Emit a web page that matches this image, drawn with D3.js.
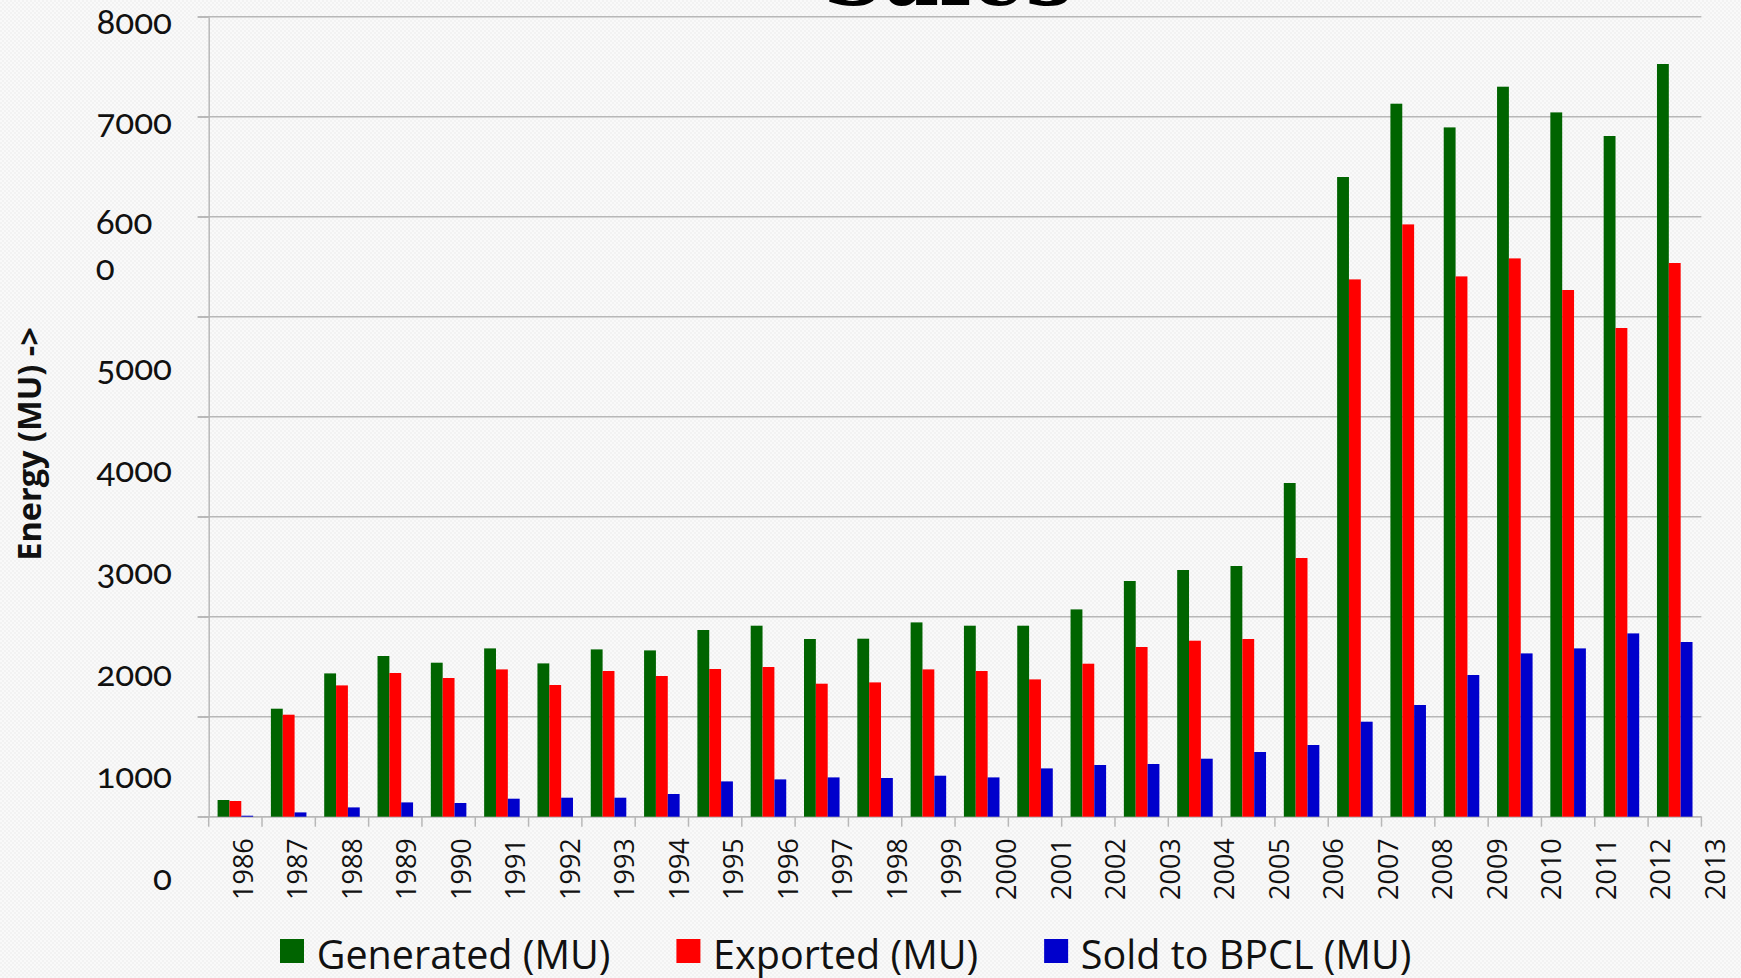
<!DOCTYPE html>
<html lang="en">
<head>
    <meta charset="UTF-8">
    <title>Sales</title>
    <script src="https://cdn.jsdelivr.net/npm/d3@7"></script>
    <style>
        body { margin: 0; background: #f4f4f4; }
        svg { display: block; }
    </style>
</head>
<body>
    <svg></svg>
    <script>
        // data
        let years = d3.range(1986, 2014).map(String);
        let generated = [167, 1080, 1433, 1607, 1540, 1683, 1533, 1673, 1663, 1867, 1910, 1777, 1780, 1943,
                         1910, 1910, 2073, 2357, 2467, 2507, 3337, 6397, 7130, 6893, 7300, 7043, 6807, 7527];
        let exported = [157, 1020, 1313, 1437, 1387, 1473, 1317, 1457, 1407, 1477, 1497, 1330, 1343, 1473,
                        1457, 1373, 1530, 1697, 1760, 1777, 2587, 5373, 5923, 5403, 5583, 5267, 4887, 5537];
        let soldBPCL = [10, 43, 93, 143, 137, 180, 190, 190, 227, 353, 373, 393, 387, 410,
                        393, 483, 517, 527, 580, 647, 717, 950, 1117, 1417, 1633, 1683, 1833, 1747];
        let seriesNames = ["Generated (MU)", "Exported (MU)", "Sold to BPCL (MU)"];
        let seriesColors = ["#006400", "#ff0000", "#0000cc"];
        let yTicks = [0, 1000, 2000, 3000, 4000, 5000, 6000, 7000, 8000];

        let svgWidth = 1741, svgHeight = 978;
        let margin = {left: 208.7, top: 16.7, right: 39.6, bottom: 161.3};
        let w = svgWidth - margin.left - margin.right;
        let h = svgHeight - margin.top - margin.bottom;

        let svg = d3.select("svg").attr("width", svgWidth).attr("height", svgHeight);

        // 背景纹理
        let pat = svg.append("defs").append("pattern")
            .attr("id", "bg").attr("width", 4).attr("height", 4)
            .attr("patternUnits", "userSpaceOnUse");
        pat.append("rect").attr("width", 4).attr("height", 4).attr("fill", "#f2f2f2");
        pat.append("circle").attr("cx", 1).attr("cy", 1).attr("r", 1).attr("fill", "#fcfcfc");
        pat.append("circle").attr("cx", 3).attr("cy", 3).attr("r", 1).attr("fill", "#fcfcfc");
        svg.append("rect").attr("width", svgWidth).attr("height", svgHeight).attr("fill", "url(#bg)");

        // title, mostly off the top of the picture
        svg.append("text")
            .attr("x", 948).attr("y", 5)
            .attr("text-anchor", "middle")
            .style("font-family", "'DejaVu Serif', serif")
            .style("font-weight", "bold")
            .style("font-size", "85px")
            .text("Sales");

        let g = svg.append("g").attr("transform", "translate(" + margin.left + "," + margin.top + ")");

        let x = d3.scaleBand().domain(years).range([0, w]).paddingInner(1 / 3).paddingOuter(1 / 6);
        let xs = d3.scaleBand().domain(d3.range(3)).range([0, x.bandwidth()]);
        let y = d3.scaleLinear().domain([0, 8000]).range([h, 0]);
        let xLabel = d3.scalePoint().domain(years).range([34.3, w + 13.6]);

        let gridColor = "#b8b8b8";

        // gridlines
        g.selectAll("line.grid").data(yTicks).enter().append("line")
            .attr("class", "grid")
            .attr("x1", -11).attr("x2", w)
            .attr("y1", d => y(d)).attr("y2", d => y(d))
            .attr("stroke", gridColor).attr("stroke-width", 1.5);

        // y axis
        let yAxis = g.append("g")
            .call(d3.axisLeft(y).tickValues(yTicks).tickSize(11).tickSizeOuter(0).tickFormat(d3.format("d")));
        yAxis.select(".domain").attr("stroke", gridColor).attr("stroke-width", 1.5);
        yAxis.selectAll(".tick line").attr("stroke", gridColor).attr("stroke-width", 1.5);
        // labels drift downward like in the original slide
        let labelDy = v => v >= 6000 ? 16.5 : 63 + (5000 - v) / 1000 * 2;
        yAxis.selectAll(".tick text")
            .attr("x", -36.7)
            .attr("dy", null)
            .attr("y", d => labelDy(d))
            .attr("fill", "#111")
            .style("font-family", "Lato, 'Noto Sans', sans-serif")
            .style("font-size", "35px")
            .style("font-variant-numeric", "oldstyle-nums")
            .style("font-feature-settings", "'onum' 1")
            .each(function (d) {
                if (d === 6000) {
                    let t = d3.select(this).text(null).attr("text-anchor", "start").attr("x", -113);
                    t.append("tspan").attr("x", -113).text("600");
                    t.append("tspan").attr("x", -113).attr("dy", 46).text("0");
                }
            });
        yAxis.attr("font-family", null).attr("font-size", null);

        // x axis line and ticks at group borders
        let borders = years.map(d => x(d) - (x.step() - x.bandwidth()) / 2).concat([w]);
        g.append("line").attr("x1", 0).attr("x2", w).attr("y1", h).attr("y2", h)
            .attr("stroke", gridColor).attr("stroke-width", 1.5);
        g.selectAll("line.xtick").data(borders).enter().append("line")
            .attr("class", "xtick")
            .attr("x1", d => d).attr("x2", d => d)
            .attr("y1", h).attr("y2", h + 10)
            .attr("stroke", gridColor).attr("stroke-width", 1.5);

        // year labels
        g.selectAll("text.year").data(years).enter().append("text")
            .attr("class", "year")
            .attr("transform", d => "translate(" + xLabel(d) + "," + (h + 21.5) + ") rotate(-90)")
            .attr("dy", "0.36em")
            .attr("text-anchor", "end")
            .attr("fill", "#111")
            .style("font-family", "'Open Sans', sans-serif")
            .style("font-size", "27px")
            .text(d => d);

        // bars
        let allSeries = [generated, exported, soldBPCL];
        allSeries.forEach((vals, si) => {
            g.selectAll("rect.s" + si).data(vals).enter().append("rect")
                .attr("class", "s" + si)
                .attr("x", (d, i) => x(years[i]) + xs(si))
                .attr("width", xs.bandwidth())
                .attr("y", d => y(d))
                .attr("height", d => h - y(d))
                .attr("fill", seriesColors[si]);
        });

        // y axis title
        svg.append("text")
            .attr("transform", "translate(41,444) rotate(-90)")
            .attr("text-anchor", "middle")
            .attr("fill", "#111")
            .style("font-family", "'Open Sans', sans-serif")
            .style("font-weight", "bold")
            .style("font-size", "32.5px")
            .text("Energy (MU) ->");

        // legend
        let legend = svg.append("g");
        let lx = 280;
        seriesNames.forEach((name, i) => {
            legend.append("rect")
                .attr("x", lx).attr("y", 939)
                .attr("width", 24).attr("height", 24)
                .attr("fill", seriesColors[i]);
            let t = legend.append("text")
                .attr("x", lx + 36.7).attr("y", 969)
                .attr("fill", "#111")
                .style("font-family", "'Open Sans', sans-serif")
                .style("font-size", "39.5px")
                .text(name);
            lx = lx + 36.7 + t.node().getComputedTextLength() + 66;
        });
    </script>
</body>
</html>
